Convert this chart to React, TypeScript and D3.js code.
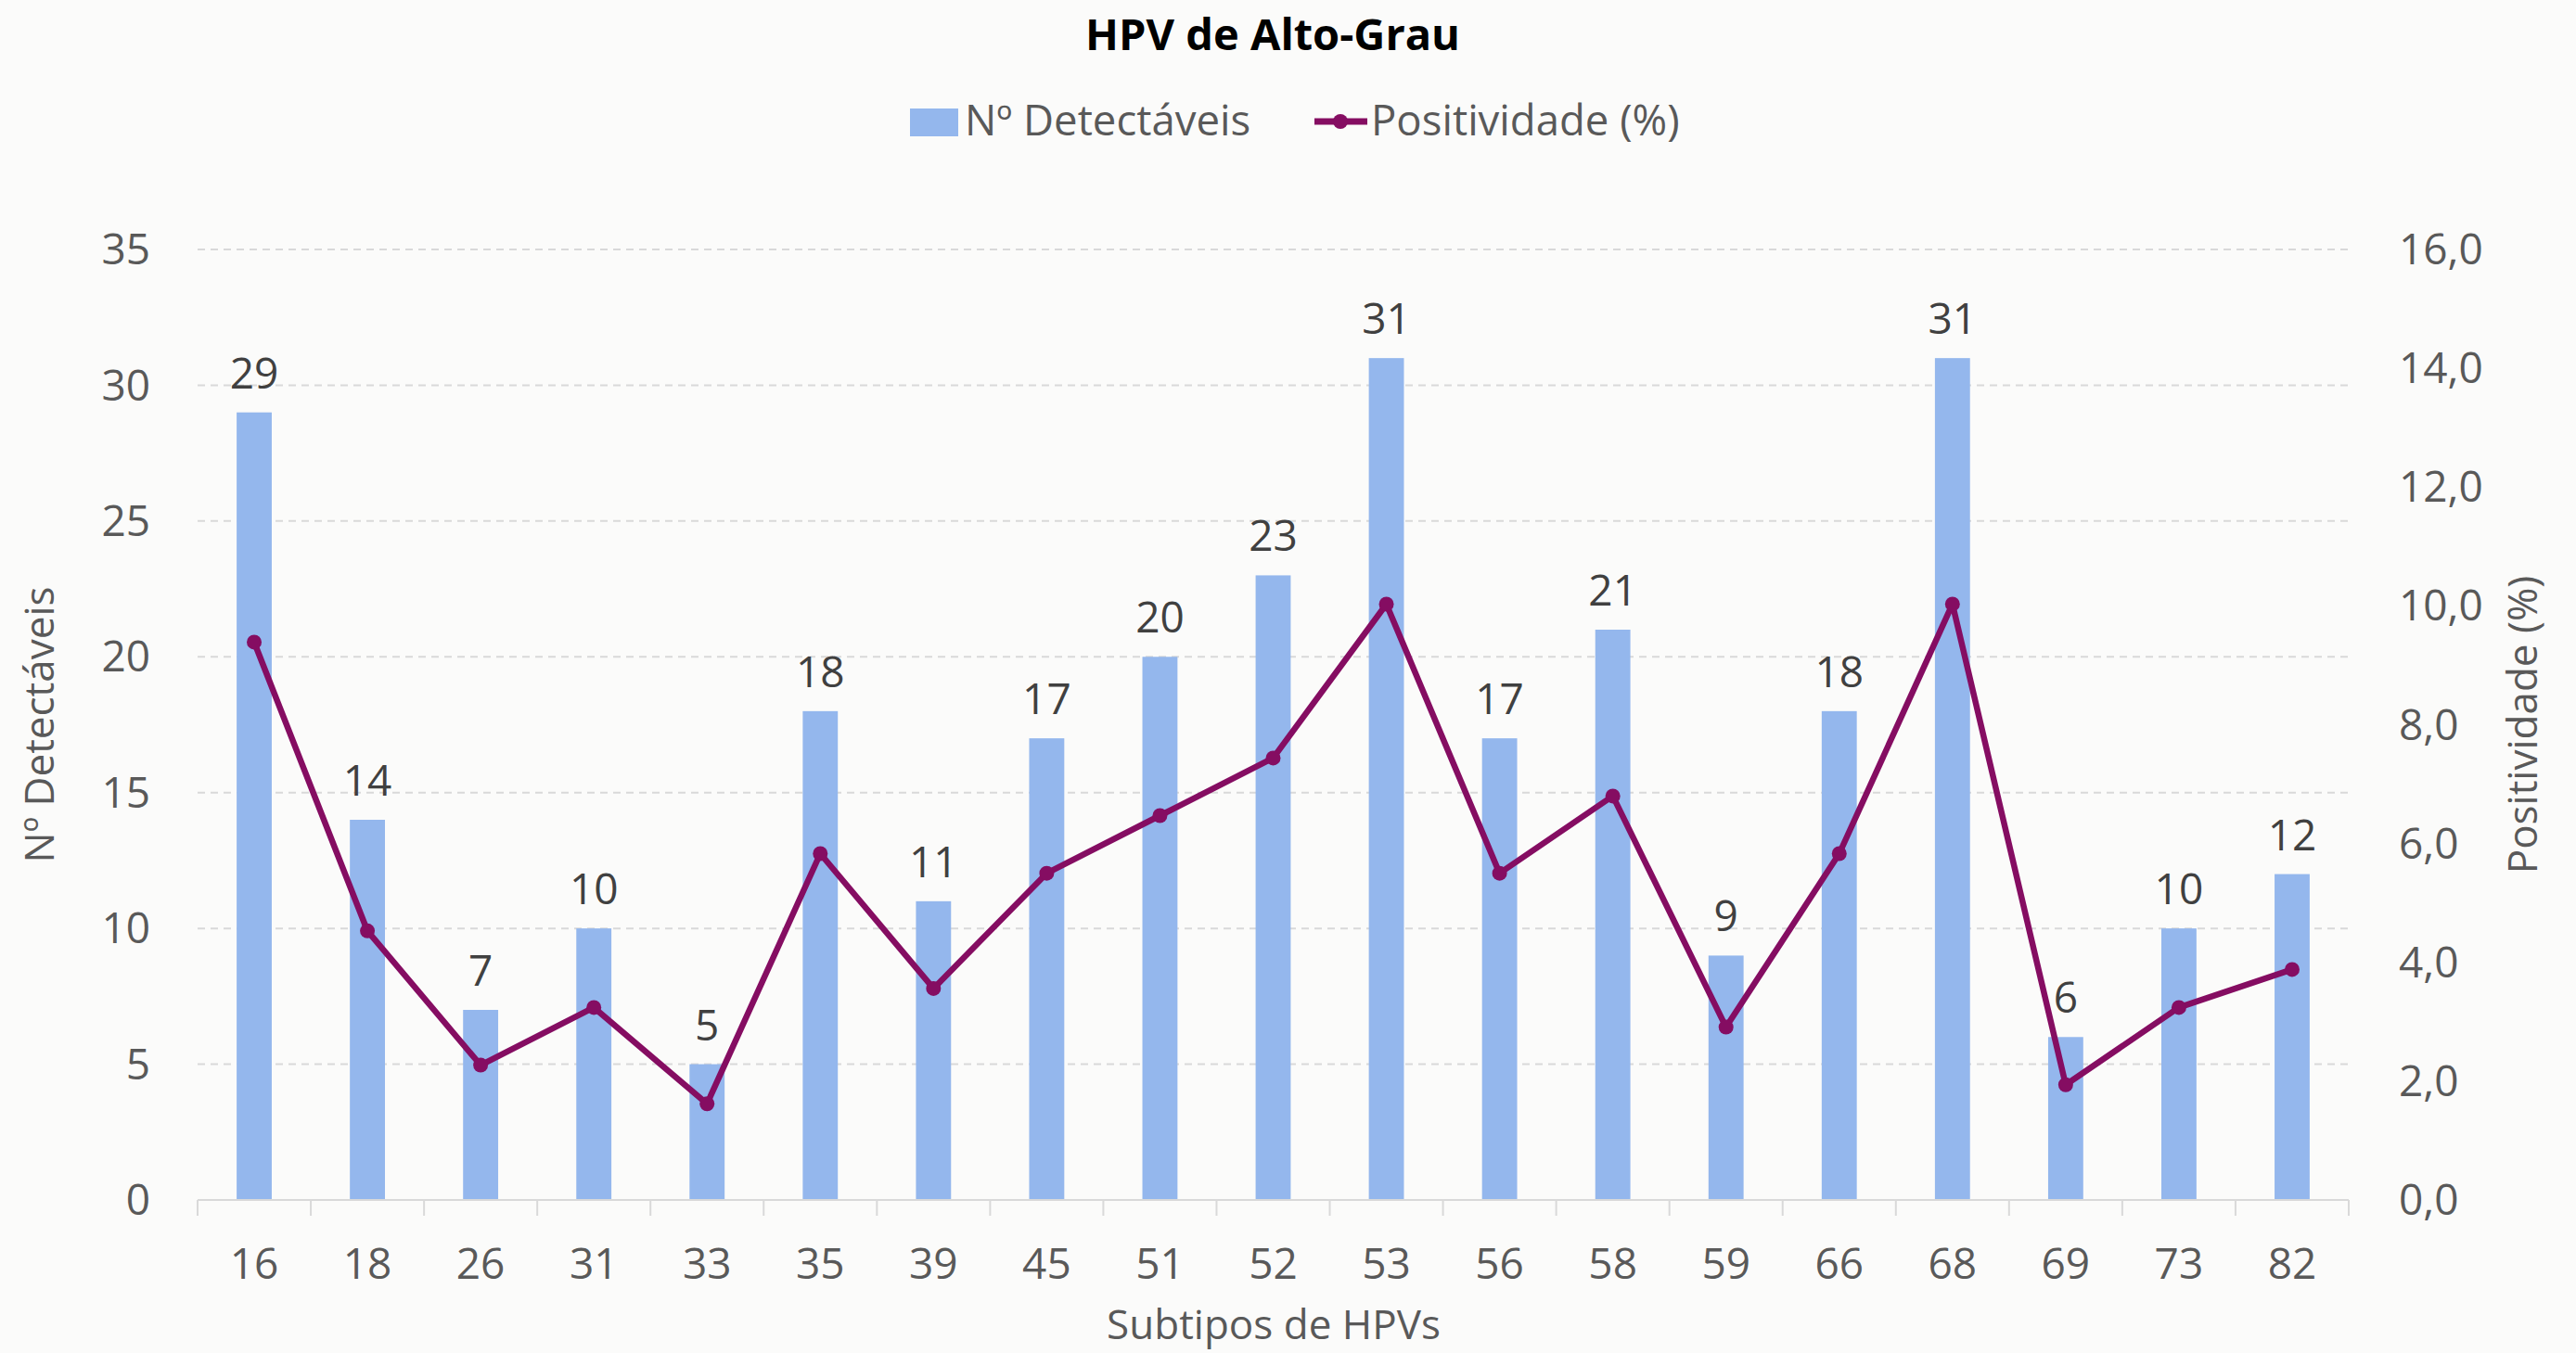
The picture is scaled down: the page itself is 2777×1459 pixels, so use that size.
import React from "react";
import * as d3 from "d3";

const subtipos = ["16", "18", "26", "31", "33", "35", "39", "45", "51", "52", "53", "56", "58", "59", "66", "68", "69", "73", "82"];
const detectaveis = [29, 14, 7, 10, 5, 18, 11, 17, 20, 23, 31, 17, 21, 9, 18, 31, 6, 10, 12];
const positividade = [9.39, 4.53, 2.27, 3.24, 1.62, 5.83, 3.56, 5.5, 6.47, 7.44, 10.03, 5.5, 6.8, 2.91, 5.83, 10.03, 1.94, 3.24, 3.88];
const leftTicks = [0, 5, 10, 15, 20, 25, 30, 35];
const rightTicks = [0, 2, 4, 6, 8, 10, 12, 14, 16];

const width = 2777;
const height = 1459;
const margin = {top: 269, right: 245, bottom: 165, left: 213};
const font = "'Open Sans', 'Noto Sans', sans-serif";

const barColor = "#94B7ED";
const lineColor = "#850D62";
const gridColor = "#D9D9D9";
const tickColor = "#595959";

const App = () => {
    const innerW = width - margin.left - margin.right;
    const x = d3
        .scaleBand()
        .domain(subtipos)
        .range([margin.left, margin.left + innerW])
        .paddingInner(0.69)
        .paddingOuter(0.345);
    const band = innerW / subtipos.length;

    const y = d3
        .scaleLinear()
        .domain([0, 35])
        .range([height - margin.bottom, margin.top]);
    const y2 = d3
        .scaleLinear()
        .domain([0, 16])
        .range([height - margin.bottom, margin.top]);

    const line = d3
        .line<number>()
        .x((d, i) => x(subtipos[i])! + x.bandwidth() / 2)
        .y(d => y2(d));

    const fmt = (v: number) => v.toFixed(1).replace(".", ",");
    const x0 = margin.left;
    const x1 = margin.left + innerW;
    const base = y(0);

    return (
        <svg width={width} height={height} style={{position: "absolute", left: 0, top: 0, background: "#FBFBFA"}}
             fontFamily={font}>
            <rect width={width} height={height} fill="#FBFBFA"/>

            {/* title */}
            <text x={1372} y={54} textAnchor="middle" fontSize={47} fontWeight="bold" fill="#000">
                HPV de Alto-Grau
            </text>

            {/* legend */}
            <rect x={981} y={117} width={52} height={30} fill={barColor}/>
            <text x={1040} y={146} fontSize={45.5} fill={tickColor}>Nº Detectáveis</text>
            <line x1={1417} x2={1474} y1={131} y2={131} stroke={lineColor} strokeWidth={7}/>
            <circle cx={1445} cy={131} r={8} fill={lineColor}/>
            <text x={1478} y={146} fontSize={45.5} fill={tickColor}>Positividade (%)</text>

            {/* gridlines */}
            {leftTicks.filter(t => t > 0).map(t => (
                <line key={t} x1={x0} x2={x1} y1={y(t)} y2={y(t)} stroke={gridColor}
                      strokeWidth={2} strokeDasharray="8,6"/>
            ))}

            {/* bars */}
            {detectaveis.map((v, i) => (
                <rect key={i} x={x(subtipos[i])} y={y(v)} width={x.bandwidth()} height={base - y(v)}
                      fill={barColor}/>
            ))}

            {/* x axis */}
            <line x1={x0} x2={x1} y1={base} y2={base} stroke={gridColor} strokeWidth={2}/>
            {d3.range(subtipos.length + 1).map(i => (
                <line key={i} x1={x0 + i * band} x2={x0 + i * band} y1={base} y2={base + 17}
                      stroke={gridColor} strokeWidth={2}/>
            ))}
            {subtipos.map(s => (
                <text key={s} x={x(s)! + x.bandwidth() / 2} y={1379} textAnchor="middle" fontSize={46}
                      fill={tickColor}>{s}</text>
            ))}

            {/* left axis */}
            {leftTicks.map(t => (
                <text key={t} x={162} y={y(t)} dy="0.35em" textAnchor="end" fontSize={46}
                      fill={tickColor}>{t}</text>
            ))}

            {/* right axis */}
            {rightTicks.map(t => (
                <text key={t} x={2586} y={y2(t)} dy="0.35em" textAnchor="start" fontSize={46}
                      fill={tickColor}>{fmt(t)}</text>
            ))}

            {/* axis titles */}
            <text transform={`translate(58, ${(base + margin.top) / 2}) rotate(-90)`} textAnchor="middle"
                  fontSize={44} fill={tickColor}>Nº Detectáveis</text>
            <text transform={`translate(2735, ${(base + margin.top) / 2}) rotate(-90)`} textAnchor="middle"
                  fontSize={44} fill={tickColor}>Positividade (%)</text>
            <text x={1373} y={1444} textAnchor="middle" fontSize={44} fill={tickColor}>Subtipos de HPVs</text>

            {/* line series */}
            <path d={line(positividade) ?? ""} fill="none" stroke={lineColor} strokeWidth={6.5}
                  strokeLinejoin="round"/>
            {positividade.map((v, i) => (
                <circle key={i} cx={x(subtipos[i])! + x.bandwidth() / 2} cy={y2(v)} r={8} fill={lineColor}/>
            ))}

            {/* data labels */}
            {detectaveis.map((v, i) => (
                <text key={i} x={x(subtipos[i])! + x.bandwidth() / 2} y={y(v) - 26} textAnchor="middle"
                      fontSize={46} fill="#404040">{v}</text>
            ))}
        </svg>
    );
};

export default App;
